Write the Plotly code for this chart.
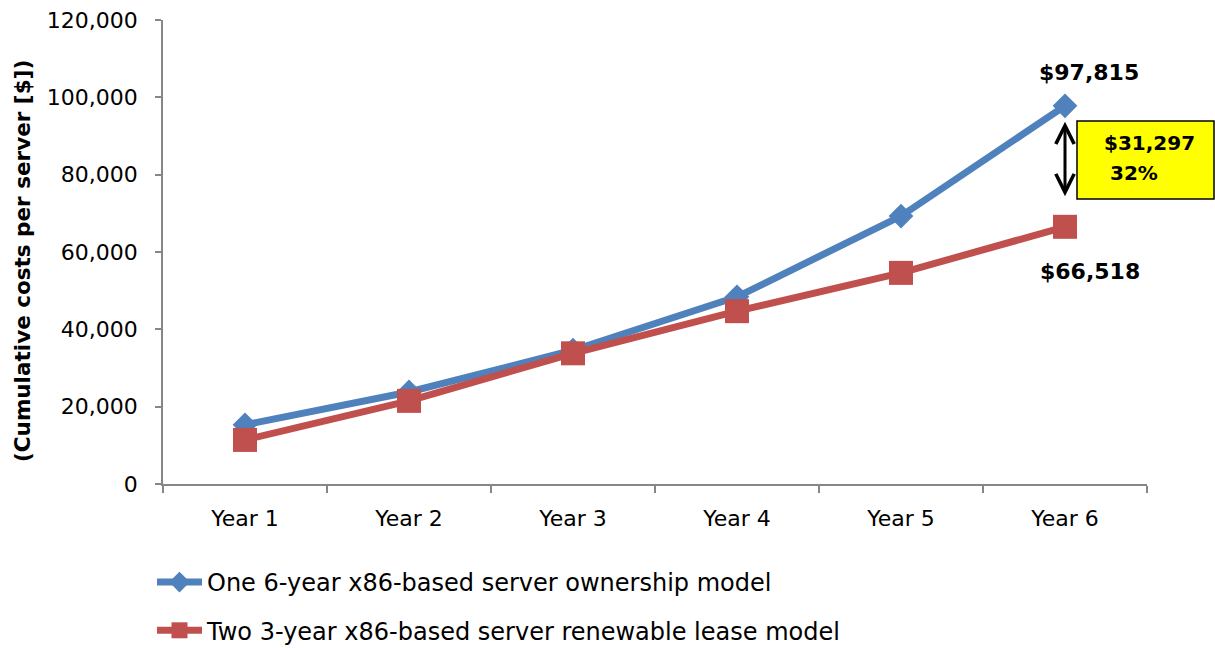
import plotly.graph_objects as go

# Cumulative cost per server over six years
years = ["Year 1", "Year 2", "Year 3", "Year 4", "Year 5", "Year 6"]
ownership = [15300, 23800, 34600, 48400, 69300, 97815]
lease = [11400, 21500, 33800, 44700, 54600, 66518]

name_own = "One 6-year x86-based server ownership model"
name_lease = "Two 3-year x86-based server renewable lease model"

BLUE = "#4F81BD"
RED = "#C0504D"
AXIS = "#868686"
FONT = "DejaVu Sans"

fig = go.Figure()
fig.add_trace(go.Scatter(
    x=years, y=ownership, name=name_own, mode="lines+markers",
    line=dict(color=BLUE, width=7),
    marker=dict(symbol="diamond", size=19, color=BLUE),
    legendgroup="own",
))
fig.add_trace(go.Scatter(
    x=years, y=lease, name=name_lease, mode="lines+markers",
    line=dict(color=RED, width=7),
    marker=dict(symbol="square", size=24, color=RED),
    legendgroup="lease",
))

# Plot-area geometry in pixels (used to place paper-space items)
W, H = 1215, 648
L, R, T, B = 163, 68, 20, 164
pw, ph = W - L - R, H - T - B


def px(x):
    return (x - L) / pw


def py(y):
    return (H - B - y) / ph


gap = ownership[-1] - lease[-1]
pct = gap / ownership[-1] * 100

annotations = [
    dict(x=years[-1], y=ownership[-1], xref="x", yref="y",
         text=f"${ownership[-1]:,}", showarrow=False, xshift=24, yshift=33,
         font=dict(family=FONT, size=22, color="black", weight="bold")),
    dict(x=years[-1], y=lease[-1], xref="x", yref="y",
         text=f"${lease[-1]:,}", showarrow=False, xshift=25, yshift=-45,
         font=dict(family=FONT, size=22, color="black", weight="bold")),
    # double-headed arrow showing the gap
    dict(x=years[-1], y=93700, xref="x", yref="y",
         ax=0, ay=76, axref="pixel", ayref="pixel",
         text="", showarrow=True, arrowside="end+start",
         arrowhead=5, startarrowhead=5, arrowsize=1.2, startarrowsize=1.2,
         arrowwidth=3, arrowcolor="black", standoff=0, startstandoff=0),
    dict(x=px(1149), y=py(143), xref="paper", yref="paper",
         xanchor="center", yanchor="middle",
         text=f"${gap:,}", showarrow=False,
         font=dict(family=FONT, size=20, color="black", weight="bold")),
    dict(x=px(1134), y=py(173), xref="paper", yref="paper",
         xanchor="center", yanchor="middle",
         text=f"{pct:.0f}%", showarrow=False,
         font=dict(family=FONT, size=20, color="black", weight="bold")),
    dict(x=px(22), y=py(261), xref="paper", yref="paper",
         xanchor="center", yanchor="middle",
         text="(Cumulative costs per server [$])", textangle=-90,
         showarrow=False,
         font=dict(family=FONT, size=21.5, color="black", weight="bold")),
]

shapes = [
    dict(type="rect", xref="paper", yref="paper",
         x0=px(1077), x1=px(1214), y0=py(199), y1=py(121),
         fillcolor="#FFFF00", line=dict(color="black", width=1.5),
         layer="below"),
]

fig.update_layout(
    width=W, height=H,
    margin=dict(l=L, r=R, t=T, b=B, autoexpand=False),
    paper_bgcolor="white", plot_bgcolor="white",
    font=dict(family=FONT, size=22, color="black"),
    showlegend=True,
    legend=dict(
        x=px(152), y=py(560), xanchor="left", yanchor="top",
        orientation="v", traceorder="grouped", tracegroupgap=14,
        itemwidth=45, font=dict(family=FONT, size=24, color="black"),
        bgcolor="rgba(0,0,0,0)",
    ),
    xaxis=dict(
        type="category", range=[-0.5, 5.5], tickson="boundaries",
        showline=True, linecolor=AXIS, linewidth=1.5,
        ticks="outside", ticklen=7, tickcolor=AXIS, tickwidth=1.5,
        showgrid=False, zeroline=False, ticklabelstandoff=14,
        tickfont=dict(family=FONT, size=22), automargin=False,
    ),
    yaxis=dict(
        range=[0, 120000], tickvals=[0, 20000, 40000, 60000, 80000, 100000, 120000],
        tickformat=",", showline=True, linecolor=AXIS, linewidth=1.5,
        ticks="outside", ticklen=6, tickcolor=AXIS, tickwidth=1.5,
        showgrid=False, zeroline=False, ticklabelstandoff=13,
        tickfont=dict(family=FONT, size=22), automargin=False,
    ),
    annotations=annotations,
    shapes=shapes,
)

fig.write_html("out.html")
